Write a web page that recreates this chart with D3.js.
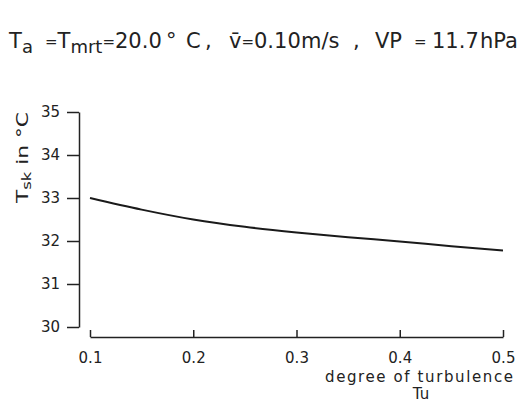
<!DOCTYPE html>
<html>
<head>
<meta charset="utf-8">
<script src="https://cdn.jsdelivr.net/npm/d3@7"></script>
<style>
  body { margin: 0; background: #fff; }
  text { font-family: "DejaVu Sans", sans-serif; fill: #222; }
</style>
</head>
<body>
<div id="chart"></div>
<script>
// degree of turbulence vs skin temperature
let tu  = [0.1, 0.15, 0.2, 0.25, 0.3, 0.35, 0.4, 0.45, 0.5];
let tsk = [33.0, 32.73, 32.5, 32.33, 32.2, 32.09, 31.99, 31.88, 31.78];
let xTicks = [0.1, 0.2, 0.3, 0.4, 0.5];
let yTicks = [30, 31, 32, 33, 34, 35];

let data = tu.map((d, i) => ({x: d, y: tsk[i]}));

let svg = d3.select("#chart").append("svg")
  .attr("width", 521)
  .attr("height", 402);

let x = d3.scaleLinear().domain([0.1, 0.5]).range([90, 503]);
let y = d3.scaleLinear().domain([30, 35]).range([327, 112]);

// title pieces, placed to follow the lettering of the original
// kind: "m" main, "s" subscript, "e" small equals sign
let titleParts = [
  {t: "T", x: 9, k: "m"}, {t: "a", x: 22, k: "s"},
  {t: "=", x: 45, k: "e"}, {t: "T", x: 57.6, k: "m"}, {t: "mrt", x: 70.4, k: "s"},
  {t: "=", x: 102.5, k: "e"}, {t: "20.0", x: 115, k: "m"}, {t: "\u00B0", x: 166, k: "m"},
  {t: "C", x: 186, k: "m"}, {t: ",", x: 205, k: "m"},
  {t: "v\u0304", x: 229, k: "m"}, {t: "=", x: 241.5, k: "e"}, {t: "0.10", x: 254, k: "m"},
  {t: "m/s", x: 301, k: "m"}, {t: ",", x: 353, k: "m"},
  {t: "VP", x: 375, k: "m"}, {t: "=", x: 414, k: "e"}, {t: "11.7", x: 432, k: "m"},
  {t: "hPa", x: 480, k: "m"}
];
let fs = {m: 21, s: 18, e: 15};
let base = {m: 48, s: 53, e: 47};
svg.append("g").selectAll("text")
  .data(titleParts)
  .enter()
  .append("text")
  .attr("x", d => d.x)
  .attr("y", d => base[d.k])
  .attr("font-size", d => fs[d.k])
  .text(d => d.t);

// y axis
let yAxis = svg.append("g")
  .attr("transform", "translate(79,0)")
  .call(d3.axisLeft(y).tickValues(yTicks).tickSize(12).tickPadding(7).tickSizeOuter(0).tickFormat(d3.format("d")));
yAxis.select(".domain").attr("stroke", "#222").attr("stroke-width", 1.5);
yAxis.selectAll(".tick line").attr("stroke", "#222").attr("stroke-width", 1.5);
yAxis.selectAll(".tick text").attr("font-size", 15).attr("font-family", "DejaVu Sans").attr("fill", "#222");

// x axis (ticks pointing up, labels below)
let xAxis = svg.append("g")
  .attr("transform", "translate(0,337)")
  .call(d3.axisTop(x).tickValues(xTicks).tickSize(7).tickSizeOuter(0).tickFormat(d3.format(".1f")));
xAxis.select(".domain").attr("stroke", "#222").attr("stroke-width", 1.5);
xAxis.selectAll(".tick line").attr("stroke", "#222").attr("stroke-width", 1.5);
xAxis.selectAll(".tick text")
  .attr("font-size", 15).attr("font-family", "DejaVu Sans").attr("fill", "#222")
  .attr("y", 26);

// y label
let ylab = svg.append("text")
  .attr("transform", "translate(28,203) rotate(-90)")
  .attr("font-size", 16)
  .attr("textLength", 91)
  .attr("lengthAdjust", "spacingAndGlyphs");
ylab.append("tspan").text("T");
ylab.append("tspan").attr("font-size", 12).attr("dy", 3).text("sk");
ylab.append("tspan").attr("dy", -3).text("  in  \u00B0C");

// x label
svg.append("text")
  .attr("x", 513).attr("y", 382)
  .attr("text-anchor", "end")
  .attr("font-size", 15)
  .attr("textLength", 188)
  .text("degree of turbulence");
svg.append("text")
  .attr("x", 421).attr("y", 399)
  .attr("text-anchor", "middle")
  .attr("font-size", 15)
  .text("Tu");

// curve
svg.append("path")
  .datum(data)
  .attr("fill", "none")
  .attr("stroke", "#1a1a1a")
  .attr("stroke-width", 2)
  .attr("d", d3.line().x(d => x(d.x)).y(d => y(d.y)).curve(d3.curveMonotoneX));
</script>
</body>
</html>
